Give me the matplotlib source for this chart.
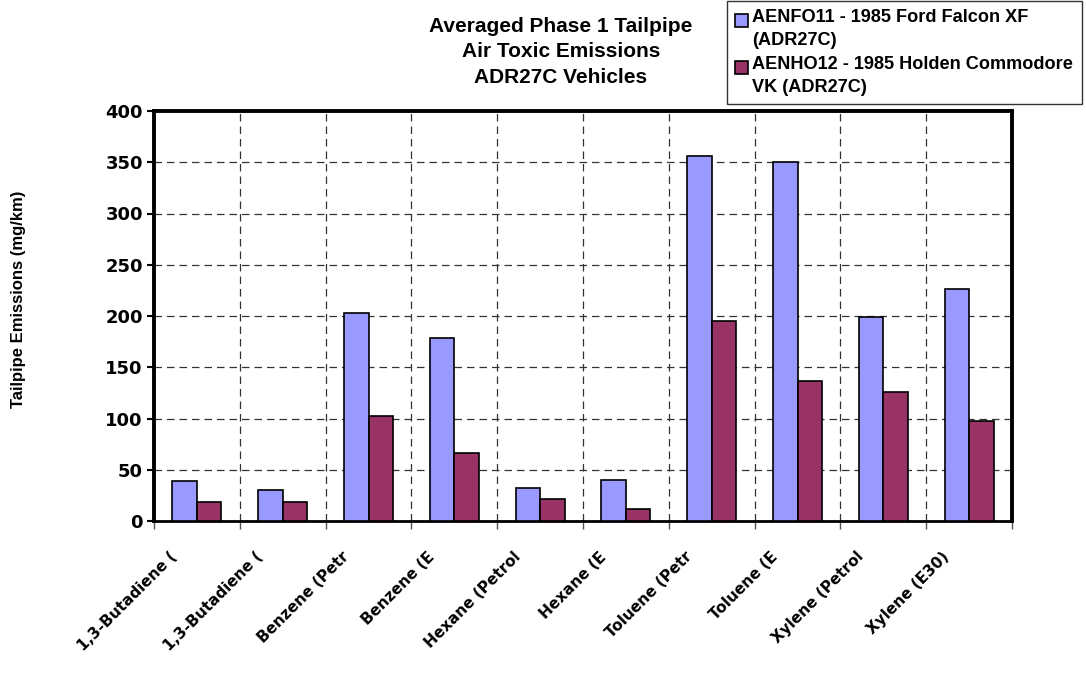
import numpy as np
import matplotlib
matplotlib.use("Agg")
import matplotlib.pyplot as plt
from matplotlib.transforms import ScaledTranslation
from matplotlib.legend_handler import HandlerPatch, update_from_first_child
from matplotlib.container import BarContainer
from matplotlib.patches import Rectangle

# data
categories = ["1,3-Butadiene (", "1,3-Butadiene (", "Benzene (Petr", "Benzene (E",
              "Hexane (Petrol", "Hexane (E", "Toluene (Petr", "Toluene (E",
              "Xylene (Petrol", "Xylene (E30)"]
ford = [39, 30, 203, 179, 32, 40, 356, 350, 199, 226]
holden = [19, 19, 102, 66, 21, 12, 195, 137, 126, 98]
ford_label = "AENFO11 - 1985 Ford Falcon XF\n(ADR27C)"
holden_label = "AENHO12 - 1985 Holden Commodore\nVK (ADR27C)"
y_ticks = [0, 50, 100, 150, 200, 250, 300, 350, 400]

plt.rcParams['font.family'] = ['Liberation Sans', 'DejaVu Sans']
plt.rcParams['font.weight'] = 'bold'

fig = plt.figure(figsize=(10.86, 6.90), dpi=100)
ax = fig.add_axes([154/1086, 1 - 521/690, 858/1086, 410/690])

x = np.arange(len(categories))
w = 0.2855
ax.bar(x - w/2, ford, w, color='#9999FF', edgecolor='black', linewidth=1.2,
       label=ford_label, zorder=3)
ax.bar(x + w/2, holden, w, color='#993366', edgecolor='black', linewidth=1.2,
       label=holden_label, zorder=3)

ax.set_xlim(-0.5, len(categories) - 0.5)
ax.set_ylim(0, 400)

# major ticks on category boundaries carry the grid, minor ticks carry labels
ax.set_xticks(np.arange(len(categories) + 1) - 0.5)
ax.set_xticklabels([])
ax.set_xticks(x, categories, minor=True)
ax.tick_params(axis='x', which='minor', length=0, pad=24)
ax.tick_params(axis='x', which='major', length=6, width=1, color='#555555')
offset = ScaledTranslation(-0.22, 0, fig.dpi_scale_trans)
for lab in ax.get_xticklabels(minor=True):
    lab.set_rotation(45)
    lab.set_ha('right')
    lab.set_va('center')
    lab.set_rotation_mode('anchor')
    lab.set_fontsize(11)
    lab.set_family(['DejaVu Sans'])
    lab.set_fontweight('bold')
    lab.set_transform(lab.get_transform() + offset)

ax.set_yticks(y_ticks)
ax.set_yticklabels([str(v) for v in y_ticks], fontsize=13, family=['DejaVu Sans'],
                   fontweight='bold')
ax.tick_params(axis='y', length=5, width=1.5, pad=3)

ax.grid(True, which='major', color='#333333', linestyle=(0, (6, 4)), linewidth=0.9, zorder=0)

for s in ax.spines.values():
    s.set_linewidth(2.8)
    s.set_color('black')
ax.spines['bottom'].set_linewidth(2)

ax.set_ylabel("Tailpipe Emissions (mg/km)", fontsize=12, fontweight='bold')
ax.yaxis.set_label_coords(-128/858, 0.54)

fig.text(561/1086, 1 - 17/690, "Averaged Phase 1 Tailpipe\nAir Toxic Emissions\nADR27C Vehicles",
         ha='center', va='top', fontsize=15, fontweight='bold', linespacing=1.42)


def top_square(legend, orig_handle, xdescent, ydescent, width, height, fontsize):
    # small square level with the first line of a two-line label
    s = 0.7 * fontsize
    return Rectangle((-xdescent, -ydescent + height - s - 0.1 * fontsize), s, s)


leg = fig.legend(loc='upper left', bbox_to_anchor=(727/1086, 1 - 1/690), fontsize=13.1,
                 frameon=True, fancybox=False, edgecolor='black', borderaxespad=0,
                 handlelength=0.7, handleheight=2.6, handletextpad=0.25,
                 labelspacing=0.4, borderpad=0.45,
                 handler_map={BarContainer: HandlerPatch(patch_func=top_square,
                                                         update_func=update_from_first_child)})
leg.get_frame().set_linewidth(1.0)
for t in leg.get_texts():
    t.set_fontweight('bold')
    t.set_linespacing(1.45)

fig.savefig("out.png", dpi=100)
